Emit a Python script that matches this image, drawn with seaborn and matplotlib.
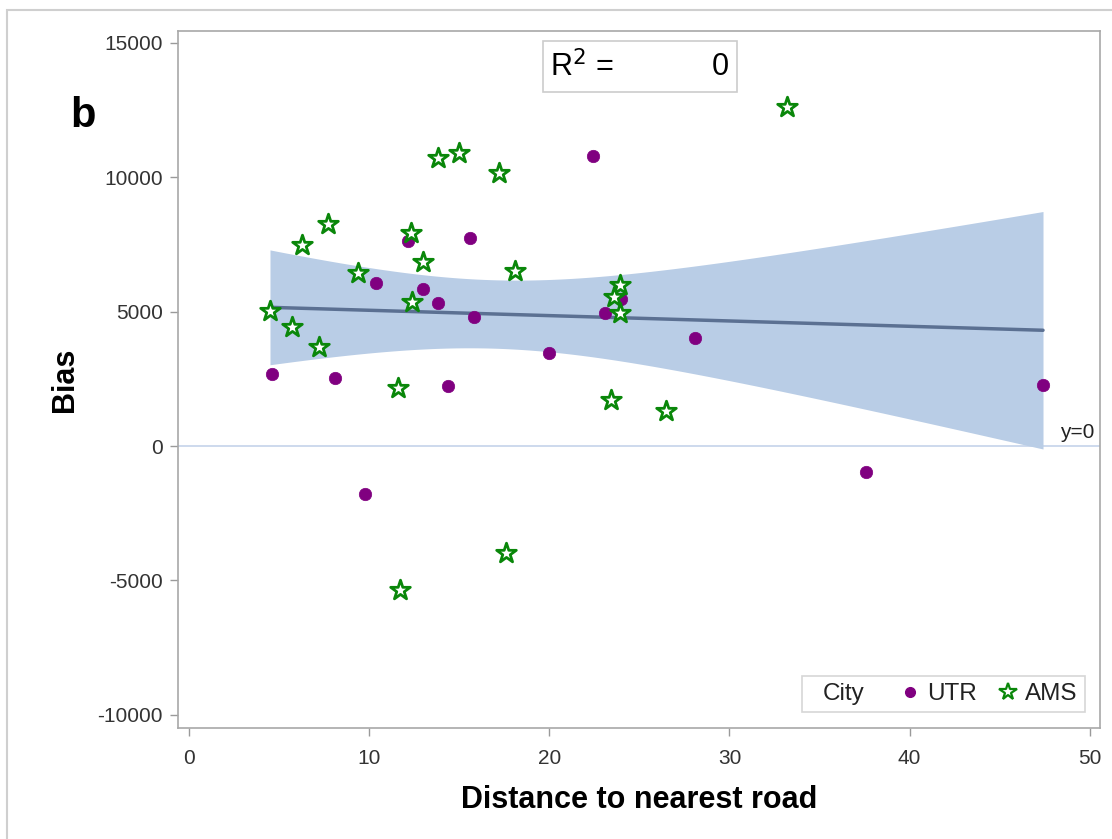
import numpy as np
import pandas as pd
import matplotlib
matplotlib.use("Agg")
import matplotlib.pyplot as plt
import matplotlib.transforms as mtransforms
from matplotlib.patches import Rectangle
from matplotlib.lines import Line2D
import seaborn as sns

# UTR sites (purple dots)
utr_dist = [4.6, 8.1, 10.4, 9.8, 12.15, 13.0, 13.8, 14.4, 15.6, 15.8, 20.0, 22.4, 23.1, 24.0, 28.1, 37.6, 47.4]
utr_bias = [2680, 2530, 6060, -1790, 7630, 5840, 5320, 2230, 7740, 4800, 3460, 10790, 4950, 5470, 4020, -970, 2270]

# AMS sites (green stars)
ams_dist = [4.5, 5.7, 6.3, 7.2, 7.7, 9.4, 11.6, 11.7, 12.3, 12.4, 13.0, 13.8, 15.0, 17.2, 17.6, 18.1,
            23.4, 23.9, 23.6, 23.9, 26.5, 33.2]
ams_bias = [5020, 4430, 7480, 3680, 8260, 6440, 2160, -5360, 7920, 5360, 6850, 10710, 10900, 10160, -3980, 6510,
            1710, 5990, 5550, 4940, 1300, 12610]

x_ticks = [0, 10, 20, 30, 40, 50]
y_ticks = [-10000, -5000, 0, 5000, 10000, 15000]

df = pd.DataFrame({
    "dist": utr_dist + ams_dist,
    "bias": utr_bias + ams_bias,
    "City": ["UTR"] * len(utr_dist) + ["AMS"] * len(ams_dist),
})

sns.set_style("white")
plt.rcParams["font.family"] = ["Liberation Sans", "DejaVu Sans"]
plt.rcParams["axes.unicode_minus"] = False

fig = plt.figure(figsize=(11.12, 8.39), dpi=100)
ax = fig.add_axes([0.160, 0.1323, 0.829, 0.8307])

# reference line y=0
ax.axhline(0, color="#c5d3ea", lw=1.2, zorder=1)

# OLS fit over all sites with 95% confidence band of the mean
x = df["dist"].to_numpy()
y = df["bias"].to_numpy()
n = len(x)
slope, intercept = np.polyfit(x, y, 1)
resid = y - (intercept + slope * x)
s = np.sqrt((resid ** 2).sum() / (n - 2))
grid = np.linspace(x.min(), x.max(), 200)
t = 2.026  # t(0.975, n-2)
se = s * np.sqrt(1 / n + (grid - x.mean()) ** 2 / ((x - x.mean()) ** 2).sum())
fit = intercept + slope * grid
ax.fill_between(grid, fit - t * se, fit + t * se, color="#b9cde6", lw=0, zorder=2)
sns.lineplot(x=grid, y=fit, ax=ax, color="#5b7092", lw=2.5, zorder=3)

utr = df[df.City == "UTR"]
ams = df[df.City == "AMS"]
sns.scatterplot(data=utr, x="dist", y="bias", ax=ax, color="#800080", marker="o", s=80,
                edgecolor="#800080", linewidth=0.5, zorder=4, legend=False)
sns.scatterplot(data=ams, x="dist", y="bias", ax=ax, color="white", marker="*", s=220,
                edgecolor="#0a870a", linewidth=2.0, zorder=5, legend=False)

ax.set_xlim(-0.61, 50.55)
ax.set_ylim(-10490, 15440)
ax.set_xticks(x_ticks)
ax.set_yticks(y_ticks)
ax.tick_params(axis="both", direction="out", length=6, width=1, color="#9a9a9a",
               labelsize=15, labelcolor="#333333", pad=5, bottom=True, left=True)
ax.tick_params(axis="x", pad=9)
for sp in ax.spines.values():
    sp.set_color("#a8a8a8")
    sp.set_linewidth(1.2)

ax.set_xlabel("Distance to nearest road", fontsize=22, fontweight="bold", labelpad=12, color="black")
ax.set_ylabel("Bias", fontsize=22, fontweight="bold", labelpad=12, color="black")

# y=0 label at the right edge
trans = mtransforms.blended_transform_factory(ax.transAxes, ax.transData)
ax.text(0.994, 150, "y=0", transform=trans, ha="right", va="bottom", fontsize=15, color="#222222")

# R^2 box
ax.add_patch(Rectangle((0.396, 0.912), 0.211, 0.074, transform=ax.transAxes, fill=False,
                       edgecolor="#cccccc", lw=1.2, zorder=6))
ax.text(0.404, 0.948, "R$^2$ =", transform=ax.transAxes, ha="left", va="center", fontsize=22, color="black")
ax.text(0.598, 0.948, "0", transform=ax.transAxes, ha="right", va="center", fontsize=22, color="black")

# legend with title on the left
handles = [
    Line2D([], [], linestyle="none", marker=None),
    Line2D([], [], linestyle="none", marker="o", color="#800080", markersize=7),
    Line2D([], [], linestyle="none", marker="*", markerfacecolor="white",
           markeredgecolor="#0a870a", markeredgewidth=1.6, markersize=13),
]
leg = ax.legend(handles, ["City", "UTR", "AMS"], loc="lower right", ncol=3, fontsize=17.5,
                frameon=True, fancybox=False, edgecolor="#cccccc", handlelength=0.8,
                handletextpad=0.3, columnspacing=0.9, borderpad=0.3,
                bbox_to_anchor=(0.997, 0.005))
leg.get_frame().set_linewidth(1.2)
for txt in leg.get_texts():
    txt.set_color("#222222")
leg.get_texts()[0].set_position((-14, 0))

fig.text(0.063, 0.862, "b", fontsize=30, fontweight="bold", ha="left", va="center", color="black")

# outer frame of the figure
fig.patches.append(Rectangle((7 / 1112, -0.1), 1.2, (839 - 10) / 839 + 0.1, transform=fig.transFigure,
                             fill=False, edgecolor="#cfcfcf", lw=1.5))

fig.savefig("out.png", dpi=100)
